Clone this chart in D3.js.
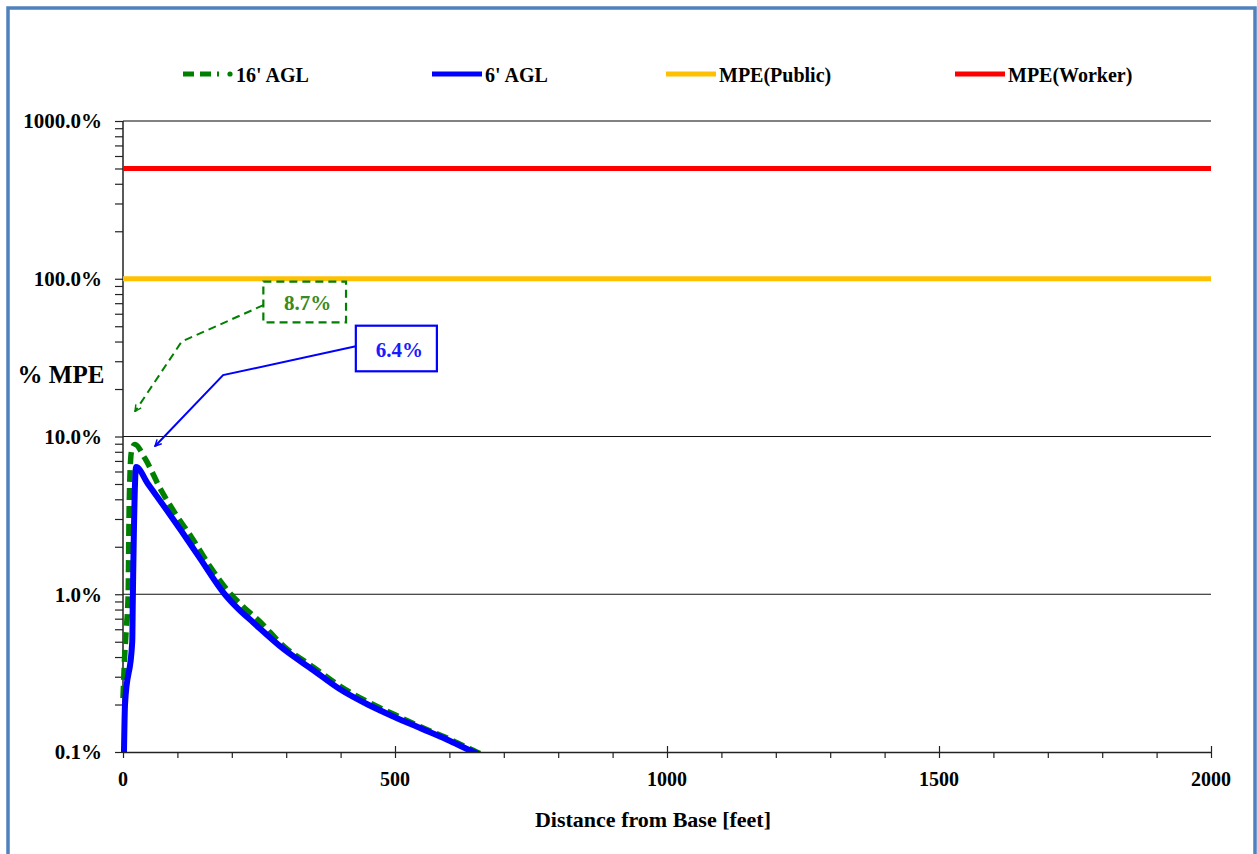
<!DOCTYPE html>
<html>
<head>
<meta charset="utf-8">
<script src="https://cdn.jsdelivr.net/npm/d3@7"></script>
<style>
    body { margin: 0; background: #fff; }
    svg { display: block; font-family: "Liberation Serif", "Times New Roman", serif; font-weight: bold; }
</style>
</head>
<body>
<svg id="chart" width="1257" height="854"></svg>
<script>
// 16' AGL  (distance ft, % MPE)
let aglHighX = [0, 3, 6, 9.5, 11, 13, 16, 22, 40, 71, 100, 126, 160, 194, 220, 250, 295, 350, 400, 450, 500, 550, 595, 650, 700];
let aglHighY = [0.22, 0.4, 0.6, 1.0, 3.0, 6.0, 8.2, 8.9, 7.3, 4.5, 3.1, 2.3, 1.5, 1.04, 0.84, 0.68, 0.47, 0.345, 0.26, 0.208, 0.172, 0.143, 0.123, 0.1, 0.084];

// 6' AGL
let aglLowX = [1.8, 3.7, 17, 18, 24, 46, 77, 108, 140, 187, 210, 240, 295, 350, 399, 450, 497, 550, 595, 644, 700];
let aglLowY = [0.1, 0.2, 0.5, 0.9, 6.4, 5.0, 3.55, 2.5, 1.72, 1.0, 0.82, 0.66, 0.45, 0.33, 0.25, 0.2, 0.168, 0.14, 0.12, 0.1, 0.083];

// MPE limits
let mpePublic = 100;
let mpeWorker = 500;

let legendNames = ["16' AGL", "6' AGL", "MPE(Public)", "MPE(Worker)"];
let legendColors = ["#008000", "#0000ff", "#ffc000", "#ff0000"];

let xTicks = [0, 500, 1000, 1500, 2000];
let yTicks = [0.1, 1, 10, 100, 1000];
let yTickLabels = ["0.1%", "1.0%", "10.0%", "100.0%", "1000.0%"];

// callouts: box [ft left, ft right, % top, % bottom], leader points (ft, %)
let calloutLabels = ["8.7%", "6.4%"];
let calloutBoxes = [[258, 410, 96, 52.9], [428, 577, 50.4, 25.9]];
let calloutLeaders = [
    [[258, 68], [108, 40], [22, 14.4]],
    [[428, 37.3], [184, 24.5], [58.8, 8.68]]
];

let svg = d3.select("#chart");

// outer frame
svg.append("rect")
    .attr("x", 8).attr("y", 8)
    .attr("width", 1247).attr("height", 870)
    .attr("fill", "none")
    .attr("stroke", "#4f81bd")
    .attr("stroke-width", 3.5);

let x = d3.scaleLinear().domain([0, 2000]).range([123, 1211]);
let y = d3.scaleLog().domain([0.1, 1000]).range([752, 121]);

// minor ticks on y
let minor = [];
[0.1, 1, 10, 100].forEach(d => {
    for (let k = 1; k <= 9; k++) minor.push(d * k);
});
minor.push(1000);

svg.append("g")
    .attr("transform", "translate(123,0)")
    .call(d3.axisLeft(y).tickValues(minor).tickSize(8).tickFormat(""))
    .call(g => g.select(".domain").remove())
    .selectAll("line").attr("stroke", "#222").attr("stroke-width", 1.2);

// y labels
svg.append("g")
    .selectAll("text")
    .data(yTicks)
    .join("text")
    .attr("x", 102)
    .attr("y", d => y(d))
    .attr("dy", "0.35em")
    .attr("text-anchor", "end")
    .style("font-size", "21px")
    .text((d, i) => yTickLabels[i]);

// gridlines
svg.append("g")
    .selectAll("line")
    .data([1, 10, 100, 1000])
    .join("line")
    .attr("x1", x(0)).attr("x2", x(2000))
    .attr("y1", d => y(d)).attr("y2", d => y(d))
    .attr("stroke", d => d === 1000 ? "#595959" : "#111")
    .attr("stroke-width", d => d === 1000 ? 1.5 : 1.2);

// x axis with minor ticks every 100 ft
let xAxis = svg.append("g")
    .attr("transform", "translate(0," + y(0.1) + ")")
    .call(d3.axisBottom(x).tickValues(d3.range(0, 2001, 100)).tickSize(6).tickFormat("").tickSizeOuter(0));
xAxis.select(".domain").attr("stroke", "#222").attr("stroke-width", 1.5);
xAxis.selectAll(".tick line")
    .attr("stroke", "#222").attr("stroke-width", 1.2)
    .attr("y1", d => (d % 500 === 0 && d > 0) ? -6 : 0);

svg.append("g")
    .selectAll("text")
    .data(xTicks)
    .join("text")
    .attr("x", d => x(d))
    .attr("y", 786)
    .attr("text-anchor", "middle")
    .style("font-size", "20px")
    .text(d => d);

// y axis line
svg.append("line")
    .attr("x1", 123).attr("x2", 123)
    .attr("y1", y(1000)).attr("y2", y(0.1))
    .attr("stroke", "#222").attr("stroke-width", 1.5);

// axis titles
svg.append("text")
    .attr("x", 653).attr("y", 827)
    .attr("text-anchor", "middle")
    .style("font-size", "22px")
    .text("Distance from Base [feet]");

svg.append("text")
    .attr("x", 61).attr("y", 383)
    .attr("text-anchor", "middle")
    .style("font-size", "25px")
    .text("% MPE");

// clip for curves
svg.append("clipPath").attr("id", "plotClip")
    .append("rect")
    .attr("x", 120).attr("y", y(1000))
    .attr("width", x(2000) - 120).attr("height", y(0.1) - y(1000));

let plot = svg.append("g").attr("clip-path", "url(#plotClip)");

// MPE limit lines
[mpePublic, mpeWorker].forEach((v, i) => {
    plot.append("line")
        .attr("x1", x(0)).attr("x2", x(2000))
        .attr("y1", y(v)).attr("y2", y(v))
        .attr("stroke", legendColors[2 + i])
        .attr("stroke-width", 5);
});

let line = d3.line().curve(d3.curveMonotoneX).x(d => x(d[0])).y(d => y(d[1]));

plot.append("path")
    .datum(aglHighX.map((d, i) => [d, aglHighY[i]]))
    .attr("d", line)
    .attr("fill", "none")
    .attr("stroke", legendColors[0])
    .attr("stroke-width", 5.5)
    .attr("stroke-dasharray", "12,6");

plot.append("path")
    .datum(aglLowX.map((d, i) => [d, aglLowY[i]]))
    .attr("d", line)
    .attr("fill", "none")
    .attr("stroke", legendColors[1])
    .attr("stroke-width", 6)
    .attr("stroke-linejoin", "round");

// callouts
let defs = svg.append("defs");
legendColors.slice(0, 2).forEach((c, i) => {
    defs.append("marker")
        .attr("id", "arrow" + i)
        .attr("viewBox", "0 0 10 10")
        .attr("refX", 9).attr("refY", 5)
        .attr("markerWidth", 8).attr("markerHeight", 8)
        .attr("markerUnits", "userSpaceOnUse")
        .attr("orient", "auto")
        .append("path")
        .attr("d", "M1,1 L9,5 L1,9")
        .attr("fill", "none")
        .attr("stroke", c)
        .attr("stroke-width", 1.8);
});

let leader = d3.line().x(d => x(d[0])).y(d => y(d[1]));
calloutLabels.forEach((label, i) => {
    let b = calloutBoxes[i];
    let c = legendColors[i];
    let dash = i === 0 ? "8,5" : null;
    svg.append("path")
        .attr("d", leader(calloutLeaders[i]))
        .attr("fill", "none")
        .attr("stroke", c)
        .attr("stroke-width", 2)
        .attr("stroke-dasharray", dash)
        .attr("marker-end", "url(#arrow" + i + ")");
    svg.append("rect")
        .attr("x", x(b[0])).attr("y", y(b[2]))
        .attr("width", x(b[1]) - x(b[0]))
        .attr("height", y(b[3]) - y(b[2]))
        .attr("fill", "#fff")
        .attr("stroke", c)
        .attr("stroke-width", 2.2)
        .attr("stroke-dasharray", dash);
    svg.append("text")
        .attr("x", (x(b[0]) + x(b[1])) / 2 + 3)
        .attr("y", (y(b[2]) + y(b[3])) / 2 + 1)
        .attr("dy", "0.35em")
        .attr("text-anchor", "middle")
        .attr("fill", i === 0 ? "#3a8a22" : "#1a1aff")
        .style("font-size", "21px")
        .text(label);
});

// legend
let legendX = [183, 432, 666, 955];
let legend = svg.append("g");
legendNames.forEach((name, i) => {
    let g = legend.append("g").attr("transform", "translate(" + legendX[i] + ",74)");
    if (i === 0) {
        g.append("line")
            .attr("x1", 0).attr("x2", 36)
            .attr("stroke", legendColors[i]).attr("stroke-width", 5)
            .attr("stroke-dasharray", "11,6");
        g.append("circle").attr("cx", 47).attr("r", 2.6).attr("fill", legendColors[i]);
    } else {
        g.append("line")
            .attr("x1", 0).attr("x2", 50)
            .attr("stroke", legendColors[i]).attr("stroke-width", 5);
    }
    g.append("text")
        .attr("x", 53).attr("y", 1)
        .attr("dy", "0.35em")
        .style("font-size", "20px")
        .text(name);
});
</script>
</body>
</html>
